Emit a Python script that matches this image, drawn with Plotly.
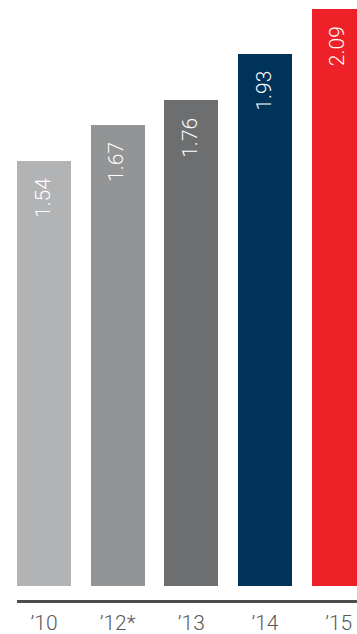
import plotly.graph_objects as go

categories = ["’10", "’12*", "’13", "’14", "’15"]
values = [1.54, 1.67, 1.76, 1.93, 2.09]
colors = ["#b2b3b5", "#939495", "#6d6e70", "#00335a", "#ee2129"]

xpos = list(range(len(categories)))

fig = go.Figure()
fig.add_trace(go.Bar(
    x=xpos, y=values, width=0.733,
    marker=dict(color=colors, line=dict(width=0)),
    hoverinfo="skip",
))

for xi, v in zip(xpos, values):
    fig.add_annotation(
        x=xi, y=v, xref="x", yref="y",
        text=f"{v:.2f}", textangle=-90,
        showarrow=False, yanchor="top", xanchor="center",
        yshift=-15, xshift=-1,
        font=dict(family="Roboto", size=21, color="white", weight=300),
    )

fig.update_layout(
    width=357, height=634,
    margin=dict(l=17, r=0, t=0, b=34),
    paper_bgcolor="white", plot_bgcolor="white",
    showlegend=False,
    bargap=0,
    font=dict(family="Roboto", size=21, color="#58595b"),
)
fig.update_xaxes(
    range=[-0.3665, 4.249],
    tickvals=xpos, ticktext=categories,
    showline=True, linecolor="#4d4d4f", linewidth=2.5,
    showgrid=False, zeroline=False,
    ticks="outside", ticklen=2, tickcolor="rgba(0,0,0,0)",
    tickfont=dict(family="Roboto", size=21, color="#58595b", weight=300),
    fixedrange=True,
)
fig.update_yaxes(
    range=[-0.0519, 2.1244],
    visible=False, showgrid=False, zeroline=False,
    fixedrange=True,
)

fig.write_html("out.html", config={"displayModeBar": False})
